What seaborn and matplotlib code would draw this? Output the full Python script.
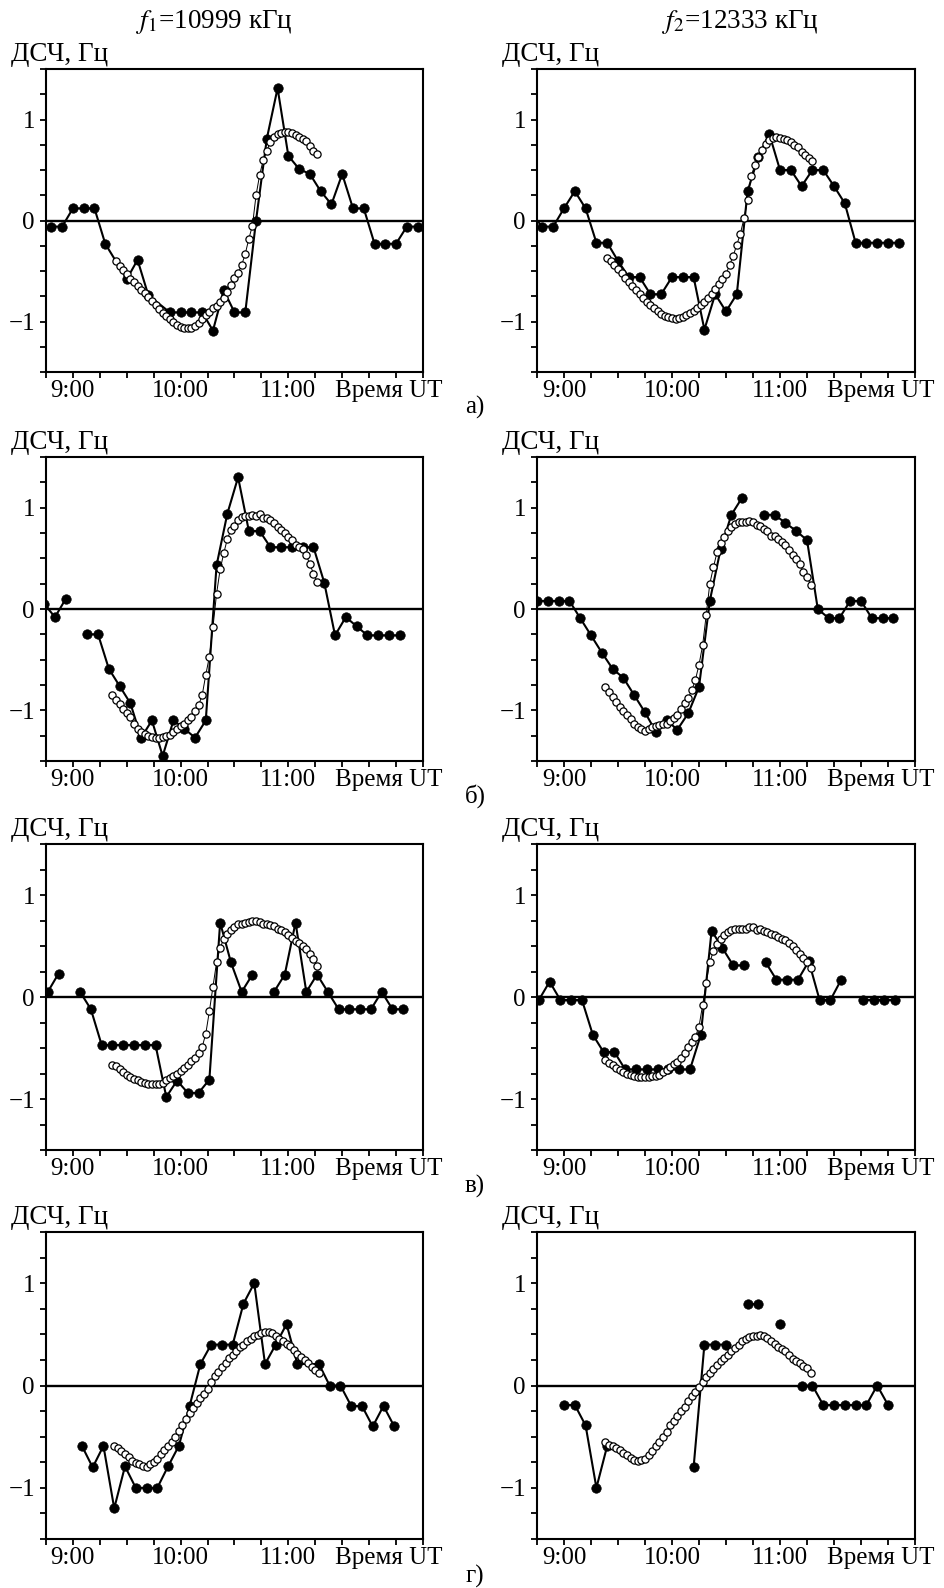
import numpy as np
import pandas as pd
import matplotlib
matplotlib.use("Agg")
import matplotlib.pyplot as plt
import seaborn as sns
from matplotlib.ticker import FixedLocator, MultipleLocator, FuncFormatter

sns.set_theme(style="ticks")
plt.rcParams["font.family"] = ["Liberation Serif", "DejaVu Serif"]
plt.rcParams["mathtext.fontset"] = "stix"
plt.rcParams["axes.unicode_minus"] = True

# ---------------- data ----------------
headers = ["$f_1$=10999 кГц", "$f_2$=12333 кГц"]
panel_letters = ["а)", "б)", "в)", "г)"]
ylabel_text = "ДСЧ, Гц"
xlabel_text = "Время UT"
hour_labels = [9, 10, 11]

# а) f1  (measured, 6-min samples; None = gap)
a1_black_t = ["8:48", "8:54", "9:00", "9:06", "9:12", "9:18", "9:30", "9:36", "9:42", "9:54",
              "10:00", "10:06", "10:12", "10:18", "10:24", "10:30", "10:36", "10:42", "10:48", "10:54",
              "11:00", "11:06", "11:12", "11:18", "11:24", "11:30", "11:36", "11:42", "11:48", "11:54",
              "12:00", "12:06", "12:12"]
a1_black_v = [-0.06, -0.06, 0.12, 0.12, 0.12, -0.23, -0.58, -0.39, -0.74, -0.91,
              -0.91, -0.91, -0.91, -1.09, -0.69, -0.91, -0.91, 0.0, 0.81, 1.31,
              0.64, 0.51, 0.46, 0.29, 0.16, 0.46, 0.12, 0.12, -0.23, -0.23,
              -0.23, -0.06, -0.06]
a1_model_start = "9:24"
a1_model_v = [-0.40, -0.45, -0.49, -0.53, -0.58, -0.61, -0.65, -0.69, -0.72, -0.76,
              -0.80, -0.84, -0.88, -0.92, -0.95, -0.98, -1.00, -1.03, -1.05, -1.06,
              -1.06, -1.06, -1.04, -1.01, -0.98, -0.94, -0.91, -0.87, -0.85, -0.81,
              -0.77, -0.71, -0.64, -0.57, -0.52, -0.44, -0.33, -0.18, -0.05, 0.25,
              0.45, 0.60, 0.69, 0.78, 0.83, 0.86, 0.87, 0.88, 0.88, 0.87,
              0.85, 0.83, 0.81, 0.79, 0.74, 0.69, 0.66]

# а) f2
a2_black_t = ["8:42", "8:48", "8:54", "9:00", "9:06", "9:12", "9:18", "9:24", "9:30", "9:36",
              "9:42", "9:48", "9:54", "10:00", "10:06", "10:12", "10:18", "10:24", "10:30", "10:36",
              "10:42", "10:48", "10:54", "11:00", "11:06", "11:12", "11:18", "11:24", "11:30", "11:36",
              "11:42", "11:48", "11:54", "12:00", "12:06"]
a2_black_v = [0.06, -0.06, -0.06, 0.12, 0.29, 0.12, -0.22, -0.22, -0.40, -0.56,
              -0.56, -0.73, -0.73, -0.56, -0.56, -0.56, -1.08, -0.73, -0.90, -0.73,
              0.29, 0.63, 0.86, 0.50, 0.50, 0.34, 0.50, 0.50, 0.34, 0.17,
              -0.22, -0.22, -0.22, -0.22, -0.22]
a2_model_start = "9:24"
a2_model_v = [-0.37, -0.40, -0.44, -0.48, -0.52, -0.57, -0.61, -0.65, -0.69, -0.73,
              -0.77, -0.81, -0.84, -0.87, -0.90, -0.93, -0.95, -0.96, -0.97, -0.98,
              -0.97, -0.96, -0.94, -0.92, -0.90, -0.87, -0.84, -0.81, -0.77, -0.73,
              -0.68, -0.63, -0.58, -0.53, -0.44, -0.35, -0.24, -0.13, 0.02, 0.20,
              0.44, 0.55, 0.63, 0.70, 0.76, 0.80, 0.82, 0.83, 0.82, 0.81,
              0.80, 0.78, 0.75, 0.73, 0.68, 0.65, 0.62, 0.59]

# б) f1
b1_black_t = ["8:44", "8:50", "8:56", "9:02", "9:08", "9:14", "9:20", "9:26", "9:32", "9:38",
              "9:44", "9:50", "9:56", "10:02", "10:08", "10:14", "10:20", "10:26", "10:32", "10:38",
              "10:44", "10:50", "10:56", "11:02", "11:08", "11:14", "11:20", "11:26", "11:32", "11:38",
              "11:44", "11:50", "11:56", "12:02"]
b1_black_v = [0.05, -0.08, 0.10, None, -0.25, -0.25, -0.59, -0.76, -0.93, -1.27,
              -1.10, -1.45, -1.10, -1.18, -1.27, -1.10, 0.43, 0.94, 1.30, 0.77,
              0.77, 0.61, 0.61, 0.61, 0.61, 0.61, 0.26, -0.26, -0.08, -0.17,
              -0.26, -0.26, -0.26, -0.26]
b1_model_start = "9:22"
b1_model_v = [-0.85, -0.90, -0.94, -0.99, -1.03, -1.07, -1.13, -1.18, -1.21, -1.23,
              -1.25, -1.26, -1.27, -1.27, -1.26, -1.25, -1.24, -1.21, -1.18, -1.15,
              -1.13, -1.10, -1.07, -1.01, -0.95, -0.85, -0.65, -0.47, -0.18, 0.15,
              0.39, 0.55, 0.69, 0.78, 0.82, 0.88, 0.91, 0.92, 0.92, 0.93,
              0.92, 0.94, 0.90, 0.90, 0.88, 0.85, 0.81, 0.78, 0.75, 0.71,
              0.68, 0.63, 0.61, 0.59, 0.53, 0.44, 0.35, 0.27]

# б) f2
b2_black_t = ["8:45", "8:51", "8:57", "9:03", "9:09", "9:15", "9:21", "9:27", "9:33", "9:39",
              "9:45", "9:51", "9:57", "10:03", "10:09", "10:15", "10:21", "10:27", "10:33", "10:39",
              "10:45", "10:51", "10:57", "11:03", "11:09", "11:15", "11:21", "11:27", "11:33", "11:39",
              "11:45", "11:51", "11:57", "12:03"]
b2_black_v = [0.08, 0.08, 0.08, 0.08, -0.09, -0.26, -0.43, -0.59, -0.68, -0.85,
              -1.02, -1.21, -1.10, -1.19, -1.03, -0.77, 0.08, 0.59, 0.93, 1.10,
              None, 0.93, 0.93, 0.85, 0.77, 0.68, 0.0, -0.09, -0.09, 0.08,
              0.08, -0.09, -0.09, -0.09]
b2_model_start = "9:23"
b2_model_v = [-0.77, -0.82, -0.87, -0.92, -0.97, -1.01, -1.05, -1.09, -1.13, -1.16,
              -1.18, -1.20, -1.18, -1.16, -1.15, -1.14, -1.13, -1.13, -1.11,
              -1.08, -1.05, -0.99, -0.93, -0.88, -0.80, -0.70, -0.55, -0.36, -0.06,
              0.25, 0.41, 0.56, 0.65, 0.71, 0.77, 0.81, 0.84, 0.86, 0.86,
              0.86, 0.87, 0.86, 0.83, 0.82, 0.79, 0.77, 0.72, 0.72, 0.69,
              0.66, 0.63, 0.58, 0.53, 0.49, 0.44, 0.37, 0.32, 0.24]

# в) f1
c1_black_t = ["8:46", "8:52", "8:58", "9:04", "9:10", "9:16", "9:22", "9:28", "9:34", "9:40",
              "9:46", "9:52", "9:58", "10:04", "10:10", "10:16", "10:22", "10:28", "10:34", "10:40",
              "10:46", "10:52", "10:58", "11:04", "11:10", "11:16", "11:22", "11:28", "11:34", "11:40",
              "11:46", "11:52", "11:58", "12:04"]
c1_black_v = [0.05, 0.23, None, 0.05, -0.12, -0.47, -0.47, -0.47, -0.47, -0.47,
              -0.47, -0.98, -0.82, -0.94, -0.94, -0.81, 0.73, 0.34, 0.05, 0.22,
              None, 0.05, 0.22, 0.73, 0.05, 0.22, 0.05, -0.12, -0.12, -0.12,
              -0.12, 0.05, -0.12, -0.12]
c1_model_start = "9:22"
c1_model_v = [-0.67, -0.68, -0.71, -0.74, -0.76, -0.78, -0.80, -0.81, -0.83, -0.84,
              -0.85, -0.85, -0.85, -0.85, -0.84, -0.81, -0.79, -0.77, -0.75, -0.73,
              -0.70, -0.67, -0.63, -0.60, -0.55, -0.49, -0.36, -0.14, 0.10, 0.34,
              0.48, 0.57, 0.62, 0.66, 0.69, 0.72, 0.72, 0.73, 0.74, 0.75,
              0.75, 0.74, 0.72, 0.72, 0.71, 0.70, 0.67, 0.66, 0.64, 0.61,
              0.58, 0.55, 0.53, 0.50, 0.47, 0.42, 0.37, 0.30]

# в) f2
c2_black_t = ["8:46", "8:52", "8:58", "9:04", "9:10", "9:16", "9:22", "9:28", "9:34", "9:40",
              "9:46", "9:52", "9:58", "10:04", "10:10", "10:16", "10:22", "10:28", "10:34", "10:40",
              "10:46", "10:52", "10:58", "11:04", "11:10", "11:16", "11:22", "11:28", "11:34", "11:40",
              "11:46", "11:52", "11:58", "12:04"]
c2_black_v = [-0.03, 0.15, -0.03, -0.03, -0.03, -0.37, -0.54, -0.54, -0.71, -0.71,
              -0.71, -0.71, -0.71, -0.71, -0.71, -0.37, 0.65, 0.48, 0.31, 0.31,
              None, 0.34, 0.17, 0.17, 0.17, 0.35, -0.03, -0.03, 0.17, None,
              -0.03, -0.03, -0.03, -0.03]
c2_model_start = "9:23"
c2_model_v = [-0.62, -0.65, -0.67, -0.70, -0.72, -0.74, -0.75, -0.76, -0.77, -0.78,
              -0.78, -0.78, -0.78, -0.77, -0.77, -0.76, -0.74, -0.72, -0.69,
              -0.66, -0.64, -0.60, -0.55, -0.49, -0.44, -0.39, -0.29, -0.08, 0.14,
              0.34, 0.45, 0.52, 0.57, 0.61, 0.64, 0.66, 0.67, 0.67, 0.67,
              0.67, 0.69, 0.69, 0.66, 0.67, 0.65, 0.64, 0.62, 0.61, 0.59,
              0.57, 0.56, 0.53, 0.50, 0.46, 0.42, 0.38, 0.34, 0.28]

# г) f1
d1_black_t = ["9:05", "9:11", "9:17", "9:23", "9:29", "9:35", "9:41", "9:47", "9:53", "9:59",
              "10:05", "10:11", "10:17", "10:23", "10:29", "10:35", "10:41", "10:47", "10:53", "10:59",
              "11:05", "11:17", "11:23", "11:29", "11:35", "11:41", "11:47", "11:53", "11:59"]
d1_black_v = [-0.59, -0.80, -0.59, -1.20, -0.79, -1.00, -1.00, -1.00, -0.79, -0.59,
              -0.20, 0.21, 0.40, 0.40, 0.40, 0.80, 1.00, 0.21, 0.40, 0.60,
              0.21, 0.21, 0.0, 0.0, -0.20, -0.20, -0.40, -0.20, -0.40]
d1_model_start = "9:23"
d1_model_v = [-0.59, -0.61, -0.64, -0.67, -0.70, -0.74, -0.76, -0.77, -0.79, -0.80,
              -0.77, -0.75, -0.72, -0.67, -0.63, -0.59, -0.55, -0.50, -0.44,
              -0.39, -0.33, -0.27, -0.22, -0.17, -0.12, -0.08, -0.03, 0.03, 0.09,
              0.13, 0.18, 0.22, 0.27, 0.30, 0.34, 0.38, 0.40, 0.43, 0.45,
              0.48, 0.49, 0.51, 0.52, 0.52, 0.51, 0.48, 0.45, 0.43, 0.41,
              0.39, 0.35, 0.31, 0.28, 0.25, 0.22, 0.18, 0.15, 0.12]

# г) f2
d2_black_t = ["9:00", "9:06", "9:12", "9:18", "9:24", "9:30", "10:12", "10:18", "10:24", "10:30",
              "10:36", "10:42", "10:48", "10:54", "11:00", "11:06", "11:12", "11:18", "11:24", "11:30",
              "11:36", "11:42", "11:48", "11:54", "12:00"]
d2_black_v = [-0.19, -0.19, -0.39, -1.00, -0.59, None, -0.80, 0.40, 0.40, 0.40,
              None, 0.80, 0.80, None, 0.60, None, 0.0, 0.0, -0.19, -0.19,
              -0.19, -0.19, -0.19, 0.0, -0.19]
d2_model_start = "9:23"
d2_model_v = [-0.55, -0.58, -0.59, -0.61, -0.63, -0.66, -0.68, -0.71, -0.73, -0.74,
              -0.73, -0.72, -0.68, -0.64, -0.59, -0.55, -0.50, -0.45, -0.39,
              -0.35, -0.30, -0.25, -0.21, -0.15, -0.10, -0.06, -0.01, 0.03, 0.08,
              0.12, 0.16, 0.20, 0.24, 0.27, 0.30, 0.34, 0.37, 0.40, 0.43,
              0.45, 0.47, 0.48, 0.48, 0.49, 0.48, 0.46, 0.43, 0.41, 0.38,
              0.36, 0.34, 0.30, 0.26, 0.24, 0.22, 0.19, 0.17, 0.12]

panels = [
    [(a1_black_t, a1_black_v, a1_model_start, a1_model_v),
     (a2_black_t, a2_black_v, a2_model_start, a2_model_v)],
    [(b1_black_t, b1_black_v, b1_model_start, b1_model_v),
     (b2_black_t, b2_black_v, b2_model_start, b2_model_v)],
    [(c1_black_t, c1_black_v, c1_model_start, c1_model_v),
     (c2_black_t, c2_black_v, c2_model_start, c2_model_v)],
    [(d1_black_t, d1_black_v, d1_model_start, d1_model_v),
     (d2_black_t, d2_black_v, d2_model_start, d2_model_v)],
]


def hours(s):
    h, m = s.split(":")
    return int(h) + int(m) / 60.0


def black_frame(times, values):
    rows, seg = [], 0
    for t, v in zip(times, values):
        if v is None:
            seg += 1
            continue
        rows.append((hours(t), v, seg))
    return pd.DataFrame(rows, columns=["t", "v", "seg"])


def model_frame(start, values):
    t0 = hours(start)
    return pd.DataFrame({"t": t0 + np.arange(len(values)) * 2 / 60.0, "v": values})


# ---------------- layout ----------------
W, H = 945, 1588
fig = plt.figure(figsize=(W / 100, H / 100), dpi=100)
fig.patch.set_facecolor("white")

col_x = [(46, 423), (537, 915)]
row_y = [(69, 372), (457, 761), (844, 1150), (1232, 1539)]
letter_y = [407, 796, 1186, 1576]
FS = 18
FS_LAB = 19.5


def xfmt(x, pos):
    r = round(x)
    if abs(x - r) < 1e-6 and r in hour_labels:
        return f"{r}:00"
    return ""


def yfmt(y, pos):
    if abs(y) < 1e-9:
        return "0"
    return f"{int(y)}".replace("-", "\u2212")


for r, row in enumerate(panels):
    top, bot = row_y[r]
    for c, (bt, bv, ms_, mv) in enumerate(row):
        x0, x1 = col_x[c]
        ax = fig.add_axes([x0 / W, 1 - bot / H, (x1 - x0) / W, (bot - top) / H])
        ax.set_facecolor("white")
        ax.axhline(0, color="black", lw=1.7, zorder=1)

        bdf = black_frame(bt, bv)
        sns.lineplot(data=bdf, x="t", y="v", units="seg", estimator=None, sort=False,
                     color="black", lw=1.5, marker="o", ms=6.8, mec="black", mew=0.5,
                     ax=ax, legend=False, zorder=2)
        mdf = model_frame(ms_, mv)
        sns.lineplot(data=mdf, x="t", y="v", estimator=None, sort=False,
                     color="black", lw=0.7, marker="o", ms=5.2, mfc="white",
                     mec="black", mew=0.9, ax=ax, legend=False, zorder=3)

        ax.set_xlim(8.75, 12.25)
        ax.set_ylim(-1.5, 1.5)
        ax.xaxis.set_major_locator(FixedLocator(np.arange(8.75, 12.26, 0.25)))
        ax.xaxis.set_major_formatter(FuncFormatter(xfmt))
        ax.yaxis.set_major_locator(FixedLocator([-1, 0, 1]))
        ax.yaxis.set_major_formatter(FuncFormatter(yfmt))
        ax.yaxis.set_minor_locator(MultipleLocator(0.25))
        ax.tick_params(which="both", direction="out", length=4, width=1.3,
                       color="black", labelcolor="black", labelsize=FS)
        ax.tick_params(axis="x", pad=2)
        ax.tick_params(axis="y", pad=4)
        ax.set_xlabel("")
        ax.set_ylabel("")
        for sp in ax.spines.values():
            sp.set_visible(True)
            sp.set_color("black")
            sp.set_linewidth(1.5)

        ax.annotate(xlabel_text, xy=(11.93, 0), xycoords=("data", "axes fraction"),
                    xytext=(0, -6), textcoords="offset points", ha="center", va="top",
                    fontsize=FS, color="black", annotation_clip=False)
        fig.text((x0 - 35) / W, 1 - (top - 8) / H, ylabel_text, ha="left",
                 va="baseline", fontsize=FS_LAB, color="black")

    fig.text(475 / W, 1 - letter_y[r] / H, panel_letters[r], ha="center", va="center",
             fontsize=FS, color="black")

fig.text(214 / W, 1 - 22 / H, headers[0], ha="center", va="center", fontsize=FS_LAB, color="black")
fig.text(740 / W, 1 - 22 / H, headers[1], ha="center", va="center", fontsize=FS_LAB, color="black")

fig.savefig("out.png", dpi=100, facecolor="white")
